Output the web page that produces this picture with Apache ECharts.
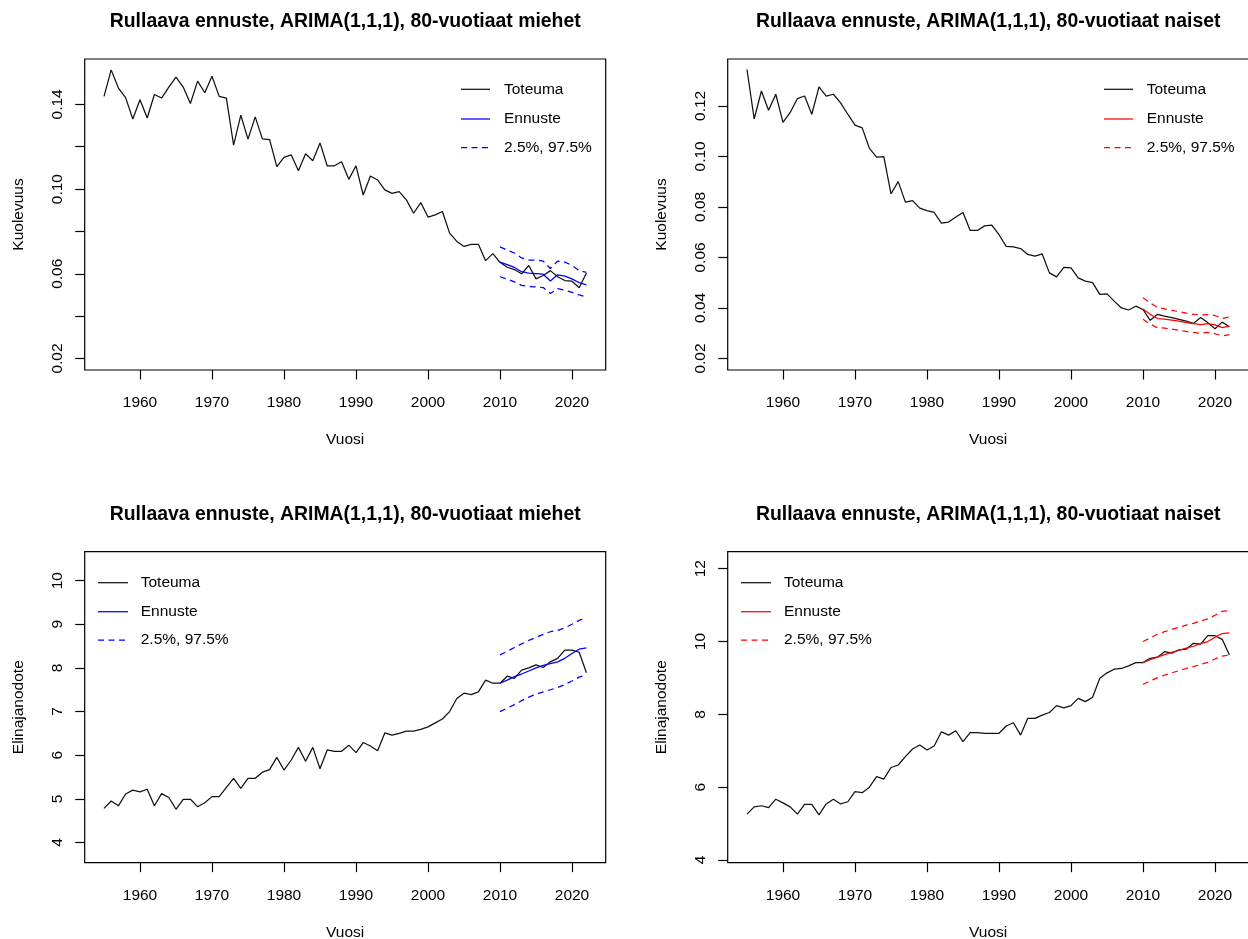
<!DOCTYPE html>
<html>
<head>
<meta charset="utf-8">
<title>Rullaava ennuste, ARIMA(1,1,1)</title>
<script src="https://cdn.jsdelivr.net/npm/echarts@6/dist/echarts.min.js"></script>
<style>
  html, body { margin: 0; padding: 0; background: #ffffff; }
  #chart { width: 1248px; height: 939px; }
</style>
</head>
<body>
<div id="chart"></div>
<script>
// Observed years and the rolling one-step forecast years
const years = [
  1955, 1956, 1957, 1958, 1959, 1960, 1961, 1962, 1963, 1964,
  1965, 1966, 1967, 1968, 1969, 1970, 1971, 1972, 1973, 1974,
  1975, 1976, 1977, 1978, 1979, 1980, 1981, 1982, 1983, 1984,
  1985, 1986, 1987, 1988, 1989, 1990, 1991, 1992, 1993, 1994,
  1995, 1996, 1997, 1998, 1999, 2000, 2001, 2002, 2003, 2004,
  2005, 2006, 2007, 2008, 2009, 2010, 2011, 2012, 2013, 2014,
  2015, 2016, 2017, 2018, 2019, 2020, 2021, 2022
];
const forecastYears = [2010, 2011, 2012, 2013, 2014, 2015, 2016, 2017, 2018, 2019, 2020, 2021, 2022];

// Mortality of 80-year-old men
const menMortality = [
  0.1438, 0.1563, 0.1477, 0.1432, 0.1331, 0.1422, 0.1336, 0.1447, 0.1430, 0.1482,
  0.1529, 0.1482, 0.1404, 0.1510, 0.1455, 0.1533, 0.1438, 0.1430, 0.1208, 0.1349,
  0.1236, 0.1341, 0.1237, 0.1234, 0.1106, 0.1150, 0.1162, 0.1087, 0.1167, 0.1134,
  0.1218, 0.1110, 0.1110, 0.1129, 0.1046, 0.1110, 0.0972, 0.1062, 0.1043, 0.0996,
  0.0980, 0.0988, 0.0949, 0.0886, 0.0936, 0.0868, 0.0878, 0.0894, 0.0792, 0.0753,
  0.0729, 0.0739, 0.0739, 0.0662, 0.0695, 0.0654, 0.0631, 0.0620, 0.0600, 0.0639,
  0.0576, 0.0592, 0.0615, 0.0586, 0.0568, 0.0565, 0.0534, 0.0604
];
const menMortalityForecast = [0.0655, 0.0643, 0.0630, 0.0610, 0.0603, 0.0601, 0.0598, 0.0566, 0.0595, 0.0589, 0.0576, 0.0558, 0.0548];
const menMortalityLow      = [0.0586, 0.0575, 0.0562, 0.0545, 0.0540, 0.0538, 0.0535, 0.0507, 0.0530, 0.0523, 0.0512, 0.0500, 0.0490];
const menMortalityHigh     = [0.0727, 0.0712, 0.0698, 0.0675, 0.0665, 0.0665, 0.0660, 0.0625, 0.0660, 0.0655, 0.0640, 0.0615, 0.0607];

// Mortality of 80-year-old women
const womenMortality = [
  0.1344, 0.1148, 0.1259, 0.1183, 0.1246, 0.1135, 0.1174, 0.1229, 0.1239, 0.1167,
  0.1275, 0.1239, 0.1246, 0.1212, 0.1167, 0.1124, 0.1113, 0.1032, 0.0997, 0.0999,
  0.0852, 0.0900, 0.0819, 0.0825, 0.0795, 0.0785, 0.0778, 0.0736, 0.0740, 0.0760,
  0.0778, 0.0707, 0.0707, 0.0725, 0.0728, 0.0690, 0.0644, 0.0642, 0.0635, 0.0612,
  0.0605, 0.0614, 0.0539, 0.0523, 0.0561, 0.0559, 0.0519, 0.0506, 0.0500, 0.0454,
  0.0456, 0.0427, 0.0400, 0.0392, 0.0407, 0.0394, 0.0351, 0.0375, 0.0368, 0.0362,
  0.0355, 0.0348, 0.0339, 0.0362, 0.0342, 0.0318, 0.0344, 0.0326
];
const womenMortalityForecast = [0.0396, 0.0375, 0.0358, 0.0356, 0.0352, 0.0348, 0.0342, 0.0338, 0.0334, 0.0338, 0.0333, 0.0322, 0.0328];
const womenMortalityLow      = [0.0355, 0.0336, 0.0322, 0.0320, 0.0316, 0.0312, 0.0307, 0.0303, 0.0300, 0.0303, 0.0298, 0.0290, 0.0294];
const womenMortalityHigh     = [0.0440, 0.0420, 0.0402, 0.0396, 0.0390, 0.0386, 0.0380, 0.0375, 0.0372, 0.0374, 0.0370, 0.0358, 0.0364];

// Life expectancy of 80-year-old men
const menLifeExp = [
  4.78, 4.95, 4.84, 5.11, 5.20, 5.16, 5.22, 4.84, 5.12, 5.03,
  4.76, 4.99, 4.99, 4.82, 4.91, 5.05, 5.05, 5.26, 5.47, 5.24,
  5.47, 5.47, 5.61, 5.67, 5.95, 5.66, 5.89, 6.18, 5.86, 6.18,
  5.69, 6.12, 6.09, 6.09, 6.23, 6.06, 6.29, 6.21, 6.10, 6.51,
  6.46, 6.50, 6.55, 6.55, 6.59, 6.65, 6.74, 6.83, 7.00, 7.30,
  7.42, 7.39, 7.45, 7.72, 7.65, 7.65, 7.81, 7.76, 7.95, 8.00,
  8.07, 8.01, 8.14, 8.22, 8.41, 8.41, 8.36, 7.89
];
const menLifeExpForecast = [7.65, 7.72, 7.80, 7.86, 7.93, 8.00, 8.06, 8.10, 8.14, 8.22, 8.33, 8.43, 8.46];
const menLifeExpLow      = [7.00, 7.08, 7.16, 7.25, 7.33, 7.40, 7.45, 7.50, 7.55, 7.62, 7.70, 7.79, 7.84];
const menLifeExpHigh     = [8.30, 8.38, 8.47, 8.55, 8.63, 8.70, 8.77, 8.83, 8.86, 8.92, 9.00, 9.09, 9.15];

// Life expectancy of 80-year-old women
const womenLifeExp = [
  5.26, 5.46, 5.49, 5.44, 5.67, 5.57, 5.46, 5.26, 5.53, 5.53,
  5.24, 5.54, 5.67, 5.54, 5.60, 5.88, 5.85, 6.00, 6.29, 6.22,
  6.54, 6.61, 6.84, 7.05, 7.16, 7.02, 7.13, 7.52, 7.43, 7.55,
  7.25, 7.50, 7.50, 7.48, 7.48, 7.48, 7.68, 7.77, 7.43, 7.89,
  7.89, 7.98, 8.05, 8.24, 8.18, 8.24, 8.44, 8.35, 8.47, 8.99,
  9.14, 9.24, 9.26, 9.33, 9.42, 9.42, 9.54, 9.57, 9.72, 9.68,
  9.77, 9.79, 9.95, 9.93, 10.16, 10.16, 10.06, 9.63
];
const womenLifeExpForecast = [9.42, 9.50, 9.57, 9.64, 9.70, 9.76, 9.82, 9.87, 9.94, 10.00, 10.12, 10.22, 10.24];
const womenLifeExpLow      = [8.82, 8.92, 9.00, 9.08, 9.14, 9.20, 9.26, 9.31, 9.37, 9.43, 9.52, 9.60, 9.63];
const womenLifeExpHigh     = [10.00, 10.10, 10.20, 10.27, 10.33, 10.39, 10.45, 10.50, 10.56, 10.62, 10.72, 10.83, 10.85];

// Tick positions and labels
const yearTicks = [1960, 1970, 1980, 1990, 2000, 2010, 2020];
const menMortalityTicks = [0.02, 0.04, 0.06, 0.08, 0.10, 0.12, 0.14];
const menMortalityLabels = [0.02, 0.06, 0.10, 0.14];
const womenMortalityTicks = [0.02, 0.04, 0.06, 0.08, 0.10, 0.12];
const menLifeExpTicks = [4, 5, 6, 7, 8, 9, 10];
const womenLifeExpTicks = [4, 6, 8, 10, 12];

const titleMen = 'Rullaava ennuste, ARIMA(1,1,1), 80-vuotiaat miehet';
const titleWomen = 'Rullaava ennuste, ARIMA(1,1,1), 80-vuotiaat naiset';
const legendLabels = ['Toteuma', 'Ennuste', '2.5%, 97.5%'];
const xName = 'Vuosi';

// ---- layout and styling ----
const FONT = '"Liberation Sans", Arial, Helvetica, sans-serif';
const TEXT_SIZE = 15.5;
const TITLE_SIZE = 19.4;
const INK = '#000000';
const DASH = [6, 4.5];
const LINE_W = 1.25;
const X_RANGE = [1952.32, 2024.68];

const panels = [
  {
    title: titleMen, yName: 'Kuolevuus', colour: '#0000ff', digits: 2,
    grid: { left: 84.7, top: 59, width: 521, height: 311 },
    yRange: [0.01456, 0.16144], yTicks: menMortalityTicks, yLabels: menMortalityLabels,
    actual: menMortality, forecast: menMortalityForecast, low: menMortalityLow, high: menMortalityHigh,
    legend: { x1: 461, x2: 490, tx: 504, ys: [89.3, 119, 147.7] }
  },
  {
    title: titleWomen, yName: 'Kuolevuus', colour: '#ff0000', digits: 2,
    grid: { left: 727.7, top: 59, width: 521, height: 311 },
    yRange: [0.01544, 0.13856], yTicks: womenMortalityTicks, yLabels: womenMortalityTicks,
    actual: womenMortality, forecast: womenMortalityForecast, low: womenMortalityLow, high: womenMortalityHigh,
    legend: { x1: 1104, x2: 1133, tx: 1146.7, ys: [89.3, 119, 147.7] }
  },
  {
    title: titleMen, yName: 'Elinajanodote', colour: '#0000ff', digits: 0,
    grid: { left: 84.7, top: 551.7, width: 521, height: 311 },
    yRange: [3.536, 10.664], yTicks: menLifeExpTicks, yLabels: menLifeExpTicks,
    actual: menLifeExp, forecast: menLifeExpForecast, low: menLifeExpLow, high: menLifeExpHigh,
    legend: { x1: 98, x2: 128, tx: 140.7, ys: [582.7, 611.7, 640] }
  },
  {
    title: titleWomen, yName: 'Elinajanodote', colour: '#ff0000', digits: 0,
    grid: { left: 727.7, top: 551.7, width: 521, height: 311 },
    yRange: [3.926, 12.467], yTicks: womenLifeExpTicks, yLabels: womenLifeExpTicks,
    actual: womenLifeExp, forecast: womenLifeExpForecast, low: womenLifeExpLow, high: womenLifeExpHigh,
    legend: { x1: 741, x2: 771, tx: 784, ys: [582.7, 611.7, 640] }
  }
];

const pairs = (xs, ys) => xs.map((x, k) => [x, ys[k]]);

const grids = [], xAxes = [], yAxes = [], series = [], graphics = [];

panels.forEach((p, i) => {
  grids.push({
    left: p.grid.left, top: p.grid.top, width: p.grid.width, height: p.grid.height,
    outerBoundsMode: 'none', containLabel: false,
    show: true, borderColor: INK, borderWidth: 1.2, backgroundColor: 'transparent'
  });

  xAxes.push({
    gridIndex: i, type: 'value', min: X_RANGE[0], max: X_RANGE[1],
    axisLine: { show: false },
    splitLine: { show: false },
    axisTick: { show: true, length: 9.5, customValues: yearTicks, lineStyle: { color: INK, width: 1.2 } },
    axisLabel: {
      customValues: yearTicks, margin: 25, color: INK,
      fontFamily: FONT, fontSize: TEXT_SIZE, formatter: v => String(Math.round(v))
    },
    name: xName, nameLocation: 'middle', nameGap: 62,
    nameTextStyle: { color: INK, fontFamily: FONT, fontSize: TEXT_SIZE }
  });

  yAxes.push({
    gridIndex: i, type: 'value', min: p.yRange[0], max: p.yRange[1],
    axisLine: { show: false },
    splitLine: { show: false },
    axisTick: { show: true, length: 9.5, customValues: p.yTicks, lineStyle: { color: INK, width: 1.2 } },
    axisLabel: {
      customValues: p.yLabels, rotate: 90, margin: 19, color: INK,
      fontFamily: FONT, fontSize: TEXT_SIZE, formatter: v => v.toFixed(p.digits)
    },
    name: p.yName, nameLocation: 'middle', nameGap: 58, nameRotate: 90,
    nameTextStyle: { color: INK, fontFamily: FONT, fontSize: TEXT_SIZE }
  });

  const common = {
    type: 'line', xAxisIndex: i, yAxisIndex: i, showSymbol: false, symbol: 'none',
    silent: true, animation: false, clip: true
  };
  series.push(Object.assign({}, common, {
    name: legendLabels[0], data: pairs(years, p.actual),
    lineStyle: { color: '#111111', width: LINE_W }, itemStyle: { color: '#111111' }, z: 2
  }));
  series.push(Object.assign({}, common, {
    name: legendLabels[2], data: pairs(forecastYears, p.high),
    lineStyle: { color: p.colour, width: LINE_W, type: DASH }, itemStyle: { color: p.colour }, z: 3
  }));
  series.push(Object.assign({}, common, {
    name: legendLabels[2], data: pairs(forecastYears, p.low),
    lineStyle: { color: p.colour, width: LINE_W, type: DASH }, itemStyle: { color: p.colour }, z: 3
  }));
  series.push(Object.assign({}, common, {
    name: legendLabels[1], data: pairs(forecastYears, p.forecast),
    lineStyle: { color: p.colour, width: LINE_W }, itemStyle: { color: p.colour }, z: 4
  }));

  // panel title, centred over the plot box
  graphics.push({
    type: 'text', x: p.grid.left + p.grid.width / 2, y: p.grid.top - 37.5, silent: true,
    style: {
      text: p.title, fill: INK, font: 'bold ' + TITLE_SIZE + 'px ' + FONT,
      align: 'center', verticalAlign: 'middle', textAlign: 'center', textVerticalAlign: 'middle'
    }
  });

  // legend: line samples and labels
  const lg = p.legend;
  const sampleColours = ['#111111', p.colour, p.colour];
  legendLabels.forEach((label, k) => {
    graphics.push({
      type: 'line', silent: true,
      shape: { x1: lg.x1, y1: lg.ys[k], x2: lg.x2, y2: lg.ys[k] },
      style: { stroke: sampleColours[k], lineWidth: LINE_W, lineDash: k === 2 ? DASH : null }
    });
    graphics.push({
      type: 'text', x: lg.tx, y: lg.ys[k], silent: true,
      style: {
        text: label, fill: INK, font: TEXT_SIZE + 'px ' + FONT,
        align: 'left', verticalAlign: 'middle', textAlign: 'left', textVerticalAlign: 'middle'
      }
    });
  });
});

const chart = echarts.init(document.getElementById('chart'), null, { renderer: 'canvas' });
chart.setOption({
  animation: false,
  backgroundColor: '#ffffff',
  grid: grids,
  xAxis: xAxes,
  yAxis: yAxes,
  series: series,
  graphic: { elements: graphics }
});
</script>
</body>
</html>
